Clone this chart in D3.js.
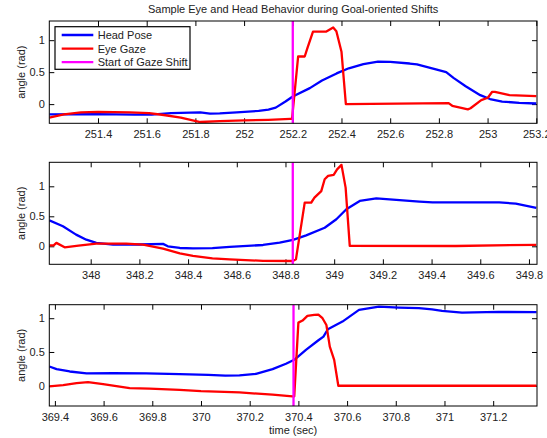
<!DOCTYPE html>
<html>
<head>
<meta charset="utf-8">
<script src="https://cdn.jsdelivr.net/npm/d3@7"></script>
<style>
  html, body { margin: 0; padding: 0; background: #fff; }
  svg { display: block; font-family: "Liberation Sans", Arial, Helvetica, sans-serif; }
</style>
</head>
<body>
<svg id="chart" width="547" height="438"></svg>
<script>
// ---- Data: head pose and eye gaze angles (rad) against time (sec) ----
const titleText = "Sample Eye and Head Behavior during Goal-oriented Shifts";
const seriesNames = ["Head Pose", "Eye Gaze", "Start of Gaze Shift"];
const seriesColors = ["#0000ff", "#ff0000", "#ff00ff"];

// Shift 1
const head1T = [251.2, 251.4, 251.55, 251.62, 251.7, 251.82, 251.86, 251.9, 251.97, 252.06, 252.1, 252.13, 252.17, 252.2, 252.27, 252.32, 252.38, 252.43, 252.49, 252.55, 252.6, 252.68, 252.71, 252.78, 252.83, 252.86, 252.91, 252.97, 253.01, 253.06, 253.13, 253.2];
const head1V = [-0.16, -0.155, -0.165, -0.165, -0.14, -0.13, -0.15, -0.145, -0.13, -0.105, -0.085, -0.055, 0.04, 0.12, 0.25, 0.37, 0.48, 0.56, 0.625, 0.665, 0.66, 0.635, 0.62, 0.55, 0.5, 0.41, 0.28, 0.14, 0.08, 0.04, 0.02, 0.01];
const eye1T = [251.2, 251.26, 251.33, 251.4, 251.53, 251.61, 251.67, 251.74, 251.82, 251.9, 252.0, 252.1, 252.19, 252.197, 252.222, 252.249, 252.26, 252.283, 252.338, 252.366, 252.379, 252.4, 252.418, 252.84, 252.855, 252.892, 252.919, 252.93, 252.974, 253.001, 253.019, 253.03, 253.09, 253.2];
const eye1V = [-0.21, -0.16, -0.13, -0.12, -0.13, -0.14, -0.17, -0.21, -0.28, -0.265, -0.255, -0.245, -0.23, -0.23, 0.745, 0.745, 0.875, 1.135, 1.135, 1.198, 1.14, 0.82, 0.0, 0.016, -0.026, -0.057, -0.083, -0.065, 0.062, 0.099, 0.193, 0.19, 0.14, 0.125];

// Shift 2
const head2T = [347.83, 347.886, 347.94, 347.982, 348.023, 348.092, 348.2, 348.297, 348.317, 348.366, 348.42, 348.5, 348.571, 348.708, 348.776, 348.831, 348.885, 348.961, 349.009, 349.05, 349.105, 349.173, 349.255, 349.35, 349.404, 349.678, 349.746, 349.83];
const head2V = [0.433, 0.333, 0.195, 0.11, 0.056, 0.028, 0.03, 0.04, 0.0, -0.028, -0.035, -0.03, -0.011, 0.022, 0.06, 0.106, 0.183, 0.31, 0.45, 0.617, 0.756, 0.8, 0.773, 0.745, 0.733, 0.733, 0.71, 0.64];
const eye2T = [347.83, 347.848, 347.859, 347.893, 347.95, 348.023, 348.146, 348.215, 348.297, 348.366, 348.42, 348.5, 348.571, 348.708, 348.83, 348.843, 348.879, 348.906, 348.919, 348.947, 348.961, 348.975, 348.998, 349.012, 349.03, 349.047, 349.064, 349.5, 349.83];
const eye2V = [0.017, 0.017, 0.057, -0.017, 0.01, 0.045, 0.045, 0.028, -0.038, -0.117, -0.16, -0.2, -0.217, -0.243, -0.245, -0.217, 0.728, 0.73, 0.81, 0.92, 1.117, 1.173, 1.19, 1.283, 1.357, 0.978, 0.006, 0.005, 0.025];

// Shift 3
const head3T = [369.377, 369.407, 369.461, 369.53, 369.639, 369.775, 369.912, 370.03, 370.1, 370.158, 370.226, 370.294, 370.349, 370.383, 370.431, 370.481, 370.503, 370.521, 370.581, 370.649, 370.731, 370.813, 370.895, 370.949, 370.99, 371.072, 371.222, 371.378];
const head3V = [0.285, 0.246, 0.211, 0.182, 0.187, 0.182, 0.172, 0.16, 0.15, 0.152, 0.177, 0.246, 0.325, 0.384, 0.532, 0.67, 0.728, 0.837, 0.95, 1.123, 1.171, 1.157, 1.148, 1.13, 1.108, 1.083, 1.093, 1.09];
const eye3T = [369.377, 369.434, 369.489, 369.536, 369.598, 369.707, 369.789, 369.912, 370.0, 370.158, 370.294, 370.376, 370.383, 370.4, 370.417, 370.437, 370.465, 370.482, 370.499, 370.515, 370.529, 370.547, 370.564, 371.378];
const eye3V = [-0.01, 0.01, 0.04, 0.055, 0.025, -0.034, -0.044, -0.06, -0.08, -0.099, -0.133, -0.158, -0.158, 0.935, 0.965, 1.034, 1.049, 1.054, 1.0, 0.9, 0.58, 0.384, 0.0, 0.0];

const shiftStarts = [252.2, 348.83, 370.38];
const xDomains = [[251.2, 253.203], [347.83, 349.833], [369.377, 371.38]];
const yDomains = [[-0.3, 1.3], [-0.3, 1.4], [-0.3, 1.2]];
const xTicks = [
  [251.4, 251.6, 251.8, 252, 252.2, 252.4, 252.6, 252.8, 253, 253.2],
  [348, 348.2, 348.4, 348.6, 348.8, 349, 349.2, 349.4, 349.6, 349.8],
  [369.4, 369.6, 369.8, 370, 370.2, 370.4, 370.6, 370.8, 371, 371.2]
];
const yTicks = [0, 0.5, 1];
const yLabel = "angle (rad)";
const xLabel = "time (sec)";

const headT = [head1T, head2T, head3T];
const headV = [head1V, head2V, head3V];
const eyeT = [eye1T, eye2T, eye3T];
const eyeV = [eye1V, eye2V, eye3V];

// ---- Layout ----
const svg = d3.select("#chart");
const left = 49.3, right = 537;
const panels = [
  { top: 21, bottom: 123.3 },
  { top: 162.3, bottom: 264.3 },
  { top: 304.7, bottom: 406 }
];
const tickLen = 5;
const fmt = d => d3.format("")(+d.toFixed(2));

svg.append("text")
  .attr("x", (left + right) / 2).attr("y", 13)
  .attr("text-anchor", "middle")
  .attr("font-size", 11)
  .attr("fill", "#222")
  .text(titleText);

panels.forEach((p, i) => {
  const x = d3.scaleLinear().domain(xDomains[i]).range([left, right]);
  const y = d3.scaleLinear().domain(yDomains[i]).range([p.bottom, p.top]);
  const g = svg.append("g");

  const clipId = "clip" + i;
  svg.append("clipPath").attr("id", clipId)
    .append("rect").attr("x", left).attr("y", p.top)
    .attr("width", right - left).attr("height", p.bottom - p.top);

  // bottom axis: labels plus inward ticks
  const xb = g.append("g").attr("transform", `translate(0,${p.bottom})`)
    .call(d3.axisBottom(x).tickValues(xTicks[i]).tickFormat(fmt)
      .tickSizeInner(-tickLen).tickSizeOuter(0).tickPadding(7));
  // top axis: ticks only
  const xt = g.append("g").attr("transform", `translate(0,${p.top})`)
    .call(d3.axisTop(x).tickValues(xTicks[i]).tickFormat("")
      .tickSizeInner(-tickLen).tickSizeOuter(0));
  // left axis with labels
  const yl = g.append("g").attr("transform", `translate(${left},0)`)
    .call(d3.axisLeft(y).tickValues(yTicks).tickFormat(fmt)
      .tickSizeInner(-tickLen).tickSizeOuter(0).tickPadding(4.5));
  // right axis ticks only
  const yr = g.append("g").attr("transform", `translate(${right},0)`)
    .call(d3.axisRight(y).tickValues(yTicks).tickFormat("")
      .tickSizeInner(-tickLen).tickSizeOuter(0));

  [xb, xt, yl, yr].forEach(a => {
    a.select(".domain").remove();
    a.selectAll("line").attr("stroke", "#000").attr("stroke-width", 1);
    a.selectAll("text").attr("font-size", 11).attr("fill", "#222")
      .attr("font-family", "'Liberation Sans', Arial, sans-serif");
  });

  const line = d3.line().x(d => x(d[0])).y(d => y(d[1]));
  const plot = g.append("g").attr("clip-path", `url(#${clipId})`);

  plot.append("path")
    .datum(headT[i].map((t, k) => [t, headV[i][k]]))
    .attr("d", line).attr("fill", "none")
    .attr("stroke", seriesColors[0]).attr("stroke-width", 2.3)
    .attr("stroke-linejoin", "round");

  plot.append("path")
    .datum(eyeT[i].map((t, k) => [t, eyeV[i][k]]))
    .attr("d", line).attr("fill", "none")
    .attr("stroke", seriesColors[1]).attr("stroke-width", 2.3)
    .attr("stroke-linejoin", "round");

  plot.append("line")
    .attr("x1", x(shiftStarts[i])).attr("x2", x(shiftStarts[i]))
    .attr("y1", p.top).attr("y2", p.bottom)
    .attr("stroke", seriesColors[2]).attr("stroke-width", 2.3);

  // frame
  g.append("rect")
    .attr("x", left).attr("y", p.top)
    .attr("width", right - left).attr("height", p.bottom - p.top)
    .attr("fill", "none").attr("stroke", "#000").attr("stroke-width", 1);

  // y label
  g.append("text")
    .attr("transform", `translate(25,${(p.top + p.bottom) / 2}) rotate(-90)`)
    .attr("text-anchor", "middle")
    .attr("font-size", 11).attr("fill", "#222")
    .text(yLabel);

  if (i === 0) {
    // legend
    const lg = g.append("g");
    lg.append("rect")
      .attr("x", 55).attr("y", 26.7).attr("width", 135).attr("height", 42.6)
      .attr("fill", "#fff").attr("stroke", "#000").attr("stroke-width", 1.2);
    seriesNames.forEach((name, k) => {
      const yy = 35 + k * 13.6;
      lg.append("line")
        .attr("x1", 61.7).attr("x2", 93.3).attr("y1", yy).attr("y2", yy)
        .attr("stroke", seriesColors[k]).attr("stroke-width", 2.3);
      lg.append("text")
        .attr("x", 97.7).attr("y", yy + 4)
        .attr("font-size", 11).attr("fill", "#222")
        .text(name);
    });
  }
});

svg.append("text")
  .attr("x", (left + right) / 2).attr("y", 434)
  .attr("text-anchor", "middle")
  .attr("font-size", 11).attr("fill", "#222")
  .text(xLabel);
</script>
</body>
</html>
